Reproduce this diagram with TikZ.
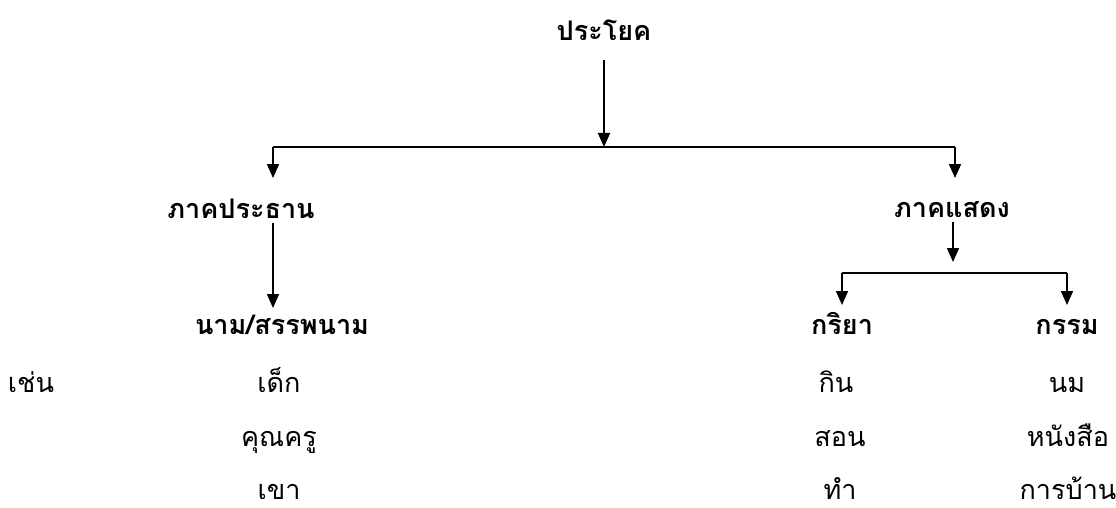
\documentclass[tikz,border=0pt]{standalone}
\usepackage{fontspec}
\newfontfamily\thaifont[Script=Thai]{Loma}
\usetikzlibrary{arrows.meta}
\begin{document}
\begin{tikzpicture}[x=1pt,y=-1pt,
  lbl/.style={font=\thaifont\fontsize{27}{30}\selectfont, inner sep=0pt, anchor=base},
  head/.style={lbl, font=\thaifont\bfseries\fontsize{27}{30}\selectfont},
  arr/.style={line width=1.6pt, -{Triangle[width=12pt,length=14pt]}},
  ln/.style={line width=1.6pt}]
\useasboundingbox (0,0) rectangle (1116,508);
% headings
\node[head] (title) at (604,41) {ประโยค};
\node[head] (subj) at (241,218) {ภาคประธาน};
\node[head] (pred) at (952,217) {ภาคแสดง};
\node[head] (noun) at (282,334) {นาม/สรรพนาม};
\node[head] (verb) at (842,334) {กริยา};
\node[head] (obj) at (1067,334) {กรรม};
% examples
\node[lbl] (eg) at (31,392) {เช่น};
\node[lbl] (n1) at (279,392) {เด็ก};
\node[lbl] (n2) at (279,446) {คุณครู};
\node[lbl] (n3) at (279,499) {เขา};
\node[lbl] (v1) at (836,392) {กิน};
\node[lbl] (v2) at (840,446) {สอน};
\node[lbl] (v3) at (840,499) {ทำ};
\node[lbl] (o1) at (1067,392) {นม};
\node[lbl] (o2) at (1068,446) {หนังสือ};
\node[lbl] (o3) at (1068,499) {การบ้าน};
% junctions
\coordinate (jm) at (604,147);
\coordinate (jl) at (273,147);
\coordinate (jr) at (955,147);
\coordinate (pl) at (842,273);
\coordinate (pr) at (1067,273);
% connectors
\draw[arr] (604,60) -- (jm);
\draw[ln] (jl) -- (jr);
\draw[arr] (jl) -- (273,178);
\draw[arr] (jr) -- (955,178);
\draw[arr] (273,223) -- (273,308);
\draw[arr] (953,222) -- (953,262);
\draw[ln] (pl) -- (pr);
\draw[arr] (pl) -- (842,305);
\draw[arr] (pr) -- (1067,305);
\end{tikzpicture}
\end{document}
